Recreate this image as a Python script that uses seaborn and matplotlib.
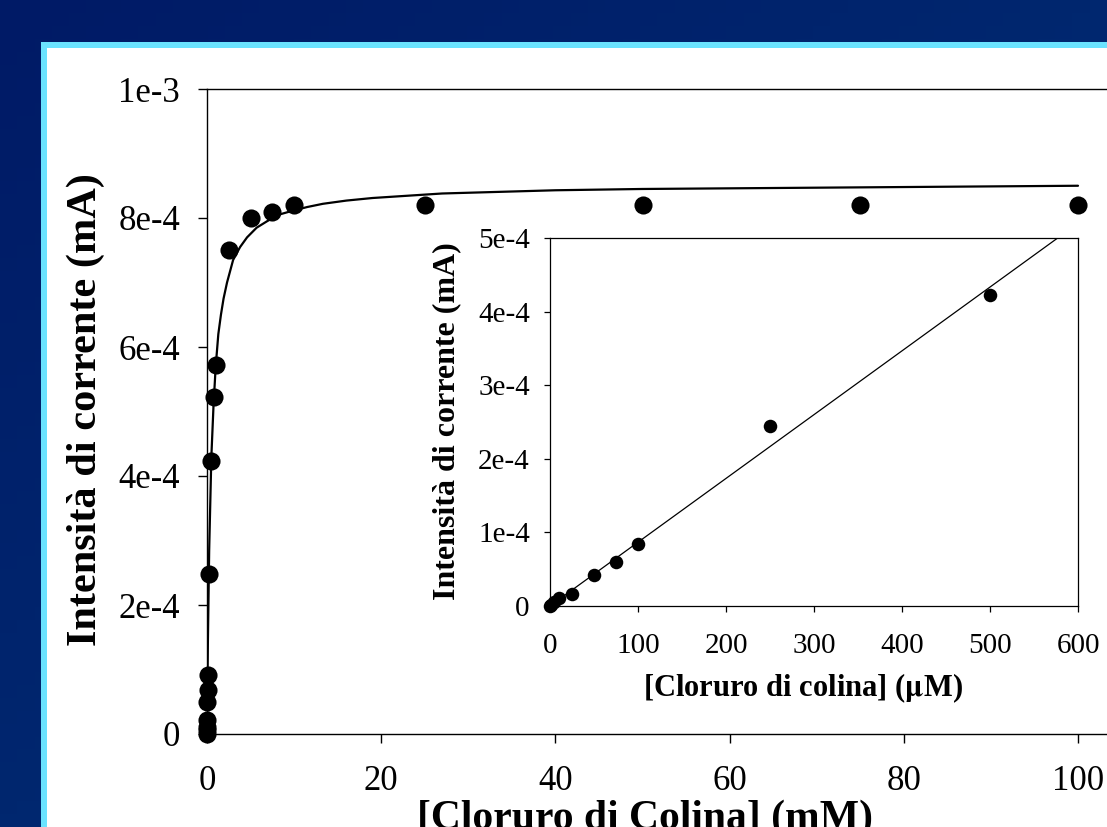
import numpy as np
import seaborn as sns
import matplotlib.pyplot as plt
from matplotlib.patches import Rectangle

# ---------------- Data ----------------
# main plot: [cloruro di colina] in mM vs current in mA
conc_mM = [0, 0.005, 0.01, 0.025, 0.05, 0.075, 0.1, 0.25, 0.5, 0.75, 1,
           2.5, 5, 7.5, 10, 25, 50, 75, 100]
curr_mA = [0, 0.06e-4, 0.11e-4, 0.22e-4, 0.50e-4, 0.68e-4, 0.91e-4, 2.48e-4,
           4.23e-4, 5.22e-4, 5.72e-4, 7.50e-4, 8.00e-4, 8.09e-4, 8.20e-4,
           8.20e-4, 8.20e-4, 8.20e-4, 8.20e-4]

# fitted curve
fit_x = [0, 0.1, 0.25, 0.5, 0.75, 1.0, 1.3, 1.6, 1.9, 2.3, 3.0, 3.8, 4.6, 5.7,
         6.9, 8.2, 9.5, 11.5, 13.3, 16, 19, 27, 40, 50, 70, 100]
fit_y = [0, 1.4e-4, 2.85e-4, 4.3e-4, 5.1e-4, 5.7e-4, 6.2e-4, 6.5e-4, 6.75e-4,
         7.0e-4, 7.35e-4, 7.55e-4, 7.7e-4, 7.85e-4, 7.95e-4, 8.05e-4, 8.1e-4,
         8.17e-4, 8.22e-4, 8.27e-4, 8.31e-4, 8.38e-4, 8.43e-4, 8.45e-4,
         8.47e-4, 8.5e-4]

# inset: low concentration range in uM
conc_uM = [0, 1, 5, 10, 25, 50, 75, 100, 250, 500]
curr_in = [0, 0.01e-4, 0.05e-4, 0.11e-4, 0.16e-4, 0.42e-4, 0.60e-4, 0.84e-4,
           2.44e-4, 4.22e-4]
lin_x = [0, 600]
lin_y = [0, 5.2e-4]

main_xticks = [0, 20, 40, 60, 80, 100]
main_yticks = [0, 2e-4, 4e-4, 6e-4, 8e-4, 1e-3]
main_ylabels = ["0", "2e-4", "4e-4", "6e-4", "8e-4", "1e-3"]
in_xticks = [0, 100, 200, 300, 400, 500, 600]
in_yticks = [0, 1e-4, 2e-4, 3e-4, 4e-4, 5e-4]
in_ylabels = ["0", "1e-4", "2e-4", "3e-4", "4e-4", "5e-4"]

# ---------------- Style ----------------
sns.set_style("white")
plt.rcParams["font.family"] = ["Liberation Serif", "DejaVu Serif"]
plt.rcParams["mathtext.fontset"] = "stix"
plt.rcParams["text.color"] = "black"

W, H = 1107, 827
fig = plt.figure(figsize=(W / 100, H / 100), dpi=100)

# slide background: dark blue gradient + white panel with cyan border
bg = fig.add_axes([0, 0, 1, 1])
bg.set_xlim(0, W)
bg.set_ylim(H, 0)
bg.axis("off")
gx, gy = np.meshgrid(np.linspace(0, 1, 64), np.linspace(0, 1, 64))
t = 0.5 * gx + 0.5 * gy
c0 = np.array([0, 26, 102]) / 255
c1 = np.array([0, 52, 120]) / 255
grad = c0[None, None, :] * (1 - t[..., None]) + c1[None, None, :] * t[..., None]
bg.imshow(grad, extent=[0, W, H, 0], aspect="auto", zorder=0)
bg.add_patch(Rectangle((41, 42), W, H, facecolor="#6BE3FF", edgecolor="none", zorder=1))
bg.add_patch(Rectangle((47, 48), W, H, facecolor="white", edgecolor="none", zorder=2))


def px(x0, y0, w, h):
    # pixel box (top-left origin) -> figure fraction
    return [x0 / W, (H - y0 - h) / H, w / W, h / H]


# ---------------- Main plot ----------------
ax = fig.add_axes(px(207, 89, 105 * 8.71, 645))
ax.set_facecolor("none")
sns.lineplot(x=fit_x, y=fit_y, ax=ax, color="black", linewidth=1.6,
             estimator=None, sort=False)
sns.scatterplot(x=conc_mM, y=curr_mA, ax=ax, color="black", s=170,
                linewidth=0, zorder=3, clip_on=False)
ax.set_xlim(0, 105)
ax.set_ylim(0, 1e-3)
ax.set_xticks(main_xticks)
ax.set_xticklabels([str(v) for v in main_xticks])
ax.set_yticks(main_yticks)
ax.set_yticklabels(main_ylabels)
ax.tick_params(direction="out", length=6.5, width=1.0, labelsize=25,
               colors="black", bottom=True, left=True)
ax.tick_params(axis="x", pad=16)
ax.tick_params(axis="y", pad=13)
for s in ax.spines.values():
    s.set_color("black")
    s.set_linewidth(1.0)
ax.spines["right"].set_visible(False)

fig.text(86 / W, 1 - 410 / H, "Intensità di corrente (mA)", rotation=90,
         ha="center", va="center", fontsize=30.5, fontweight="bold")
# the slide crops this title at the bottom edge, as in the original
fig.text(645 / W, 1 - 800 / H, "[Cloruro di Colina] (mM)",
         ha="center", va="top", fontsize=30, fontweight="bold")

# ---------------- Inset ----------------
ins = fig.add_axes(px(550, 238, 528, 368))
ins.set_facecolor("white")
sns.lineplot(x=lin_x, y=lin_y, ax=ins, color="black", linewidth=0.9,
             estimator=None, sort=False)
sns.scatterplot(x=conc_uM, y=curr_in, ax=ins, color="black", s=95,
                linewidth=0, zorder=3, clip_on=False)
ins.set_xlim(0, 600)
ins.set_ylim(0, 5e-4)
ins.set_xticks(in_xticks)
ins.set_xticklabels([str(v) for v in in_xticks])
ins.set_yticks(in_yticks)
ins.set_yticklabels(in_ylabels)
ins.tick_params(direction="out", length=4.5, width=0.9, labelsize=21,
                colors="black", bottom=True, left=True)
ins.tick_params(axis="x", pad=15)
ins.tick_params(axis="y", pad=10)
for s in ins.spines.values():
    s.set_color("black")
    s.set_linewidth(0.9)

fig.text(447 / W, 1 - 421 / H, "Intensità di corrente (mA)", rotation=90,
         ha="center", va="center", fontsize=23, fontweight="bold")
fig.text(803 / W, 1 - 688 / H, "[Cloruro di colina] ($\\mathbf{\\mu}$M)",
         ha="center", va="center", fontsize=22, fontweight="bold")

fig.savefig("out.png", dpi=100)
